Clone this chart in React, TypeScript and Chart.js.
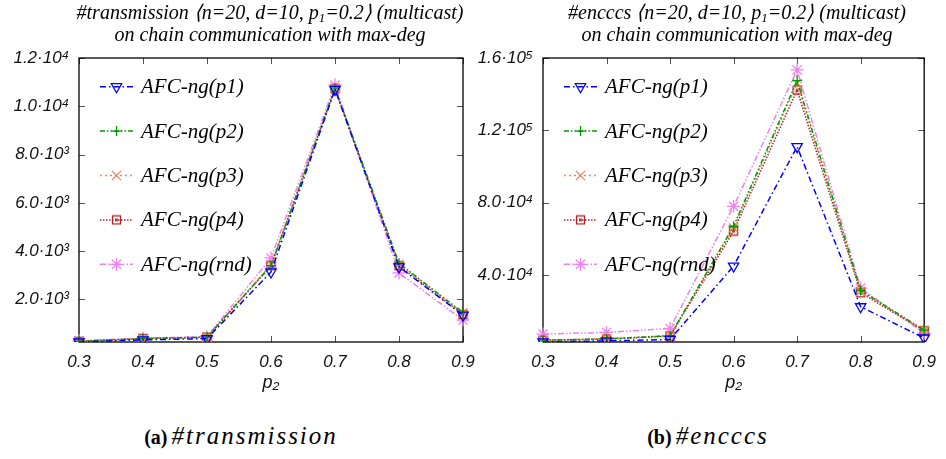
import React, { useEffect, useRef } from 'react';
import { Chart, registerables } from 'chart.js';

Chart.register(...registerables);

// ---------------- data ----------------
const categories = ['0.3', '0.4', '0.5', '0.6', '0.7', '0.8', '0.9'];
const seriesNames = ['AFC-ng(p1)', 'AFC-ng(p2)', 'AFC-ng(p3)', 'AFC-ng(p4)', 'AFC-ng(rnd)'];

// #transmission
const transP1 = [240, 330, 380, 3140, 10700, 3350, 1350];
const transP2 = [270, 380, 440, 3400, 10750, 3500, 1450];
const transP3 = [270, 380, 440, 3450, 10750, 3450, 1450];
const transP4 = [270, 380, 440, 3400, 10720, 3400, 1380];
const transRnd = [290, 400, 460, 3720, 10880, 3100, 1150];

// #encccs
const encP1 = [3100, 3600, 4400, 45000, 111000, 22500, 5200];
const encP2 = [4000, 4700, 6500, 67000, 147500, 31500, 9600];
const encP3 = [4000, 4700, 6500, 66000, 146000, 31000, 9400];
const encP4 = [4000, 4600, 6300, 64300, 142300, 30200, 9200];
const encRnd = [7400, 8300, 10500, 78000, 153400, 32800, 7900];

const transTicks = [2000, 4000, 6000, 8000, 10000, 12000];
const transTickLabels = ['2.0·10³', '4.0·10³', '6.0·10³', '8.0·10³', '1.0·10⁴', '1.2·10⁴'];
const encTicks = [40000, 80000, 120000, 160000];
const encTickLabels = ['4.0·10⁴', '8.0·10⁴', '1.2·10⁵', '1.6·10⁵'];

// ---------------- styles ----------------
type St = { color: string; dash: number[]; point: string; rot: number; r: number };
const styles: St[] = [
  { color: '#0000ff', dash: [6, 3, 1.5, 3], point: 'triangle', rot: 180, r: 6 },
  { color: '#009a00', dash: [5, 2, 1.5, 2, 1.5, 2], point: 'cross', rot: 0, r: 5 },
  { color: '#ff7f50', dash: [2, 3], point: 'crossRot', rot: 0, r: 6.5 },
  { color: '#b22222', dash: [1.5, 1.5], point: 'sq', rot: 0, r: 4.5 },
  { color: '#ee82ee', dash: [6, 2, 1.5, 2, 1.5, 2], point: 'star', rot: 0, r: 6.5 },
];

const SANS = '"Liberation Sans", Arial, sans-serif';
const SERIF = '"Liberation Serif", "Times New Roman", serif';

function makeSquare(color: string): HTMLCanvasElement {
  const c = document.createElement('canvas');
  c.width = 11;
  c.height = 11;
  const g = c.getContext('2d')!;
  g.strokeStyle = color;
  g.lineWidth = 1.3;
  g.strokeRect(1.5, 1.5, 8, 8);
  g.fillStyle = color;
  g.globalAlpha = 0.8;
  g.fillRect(4, 4, 3, 3);
  return c;
}

function drawMarker(ctx: CanvasRenderingContext2D, st: St, x: number, y: number, img: HTMLCanvasElement) {
  ctx.save();
  ctx.setLineDash([]);
  ctx.strokeStyle = st.color;
  ctx.lineWidth = 1.3;
  const r = st.r;
  ctx.beginPath();
  if (st.point === 'triangle') {
    let rad = (st.rot * Math.PI) / 180;
    ctx.moveTo(x + Math.sin(rad) * r, y - Math.cos(rad) * r);
    rad += (2 * Math.PI) / 3;
    ctx.lineTo(x + Math.sin(rad) * r, y - Math.cos(rad) * r);
    rad += (2 * Math.PI) / 3;
    ctx.lineTo(x + Math.sin(rad) * r, y - Math.cos(rad) * r);
    ctx.closePath();
    ctx.stroke();
  } else if (st.point === 'sq') {
    ctx.drawImage(img, x - img.width / 2, y - img.height / 2);
  } else {
    if (st.point === 'cross' || st.point === 'star') {
      ctx.moveTo(x, y - r);
      ctx.lineTo(x, y + r);
      ctx.moveTo(x - r, y);
      ctx.lineTo(x + r, y);
    }
    if (st.point === 'crossRot' || st.point === 'star') {
      const o = r * Math.cos(Math.PI / 4);
      ctx.moveTo(x - o, y - o);
      ctx.lineTo(x + o, y + o);
      ctx.moveTo(x + o, y - o);
      ctx.lineTo(x - o, y + o);
    }
    ctx.stroke();
  }
  ctx.restore();
}

type PanelProps = {
  values: number[][];
  ticks: number[];
  tickLabels: string[];
  min: number;
  max: number;
  left: number;
  width: number;
  yWidth: number;
  padRight: number;
};

function ChartPanel({ values, ticks, tickLabels, min, max, left, width, yWidth, padRight }: PanelProps) {
  const ref = useRef<HTMLCanvasElement>(null);

  useEffect(() => {
    if (!ref.current) return;
    const sq = makeSquare(styles[3].color);

    const datasets = values.map((v, i) => {
      const st = styles[i];
      return {
        label: seriesNames[i],
        data: v,
        borderColor: st.color,
        backgroundColor: 'transparent',
        borderDash: st.dash,
        borderWidth: 1.5,
        pointStyle: st.point === 'sq' ? (sq as any) : st.point,
        rotation: st.rot,
        pointRadius: st.r,
        pointBorderColor: st.color,
        pointBackgroundColor: 'transparent',
        pointBorderWidth: 1.3,
        tension: 0,
        fill: false,
      };
    });

    const framePlugin = {
      id: 'frame',
      beforeDatasetsDraw(chart: any) {
        const { ctx, chartArea: a, scales } = chart;
        ctx.save();
        ctx.strokeStyle = '#555';
        ctx.lineWidth = 1;
        const tl = 6;
        categories.forEach((_, i) => {
          const x = Math.round(scales.x.getPixelForValue(i)) + 0.5;
          ctx.beginPath();
          ctx.moveTo(x, a.bottom);
          ctx.lineTo(x, a.bottom - tl);
          ctx.moveTo(x, a.top);
          ctx.lineTo(x, a.top + tl);
          ctx.stroke();
        });
        ticks.forEach((v) => {
          const y = Math.round(scales.y.getPixelForValue(v)) + 0.5;
          ctx.beginPath();
          ctx.moveTo(a.left, y);
          ctx.lineTo(a.left + tl, y);
          ctx.moveTo(a.right, y);
          ctx.lineTo(a.right - tl, y);
          ctx.stroke();
        });
        ctx.strokeStyle = '#000';
        ctx.lineWidth = 1.3;
        ctx.strokeRect(a.left, a.top, a.right - a.left, a.bottom - a.top);
        ctx.restore();
      },
    };

    const legendPlugin = {
      id: 'gpLegend',
      afterDatasetsDraw(chart: any) {
        const { ctx, chartArea: a } = chart;
        ctx.save();
        seriesNames.forEach((name, i) => {
          const st = styles[i];
          const y = a.top + 28.7 + i * 44.4;
          ctx.strokeStyle = st.color;
          ctx.lineWidth = 1.5;
          ctx.setLineDash(st.dash);
          ctx.beginPath();
          ctx.moveTo(a.left + 21, y);
          ctx.lineTo(a.left + 54, y);
          ctx.stroke();
          drawMarker(ctx, st, a.left + 37.5, y, sq);
          ctx.setLineDash([]);
          ctx.fillStyle = '#000';
          ctx.font = `italic 21px ${SERIF}`;
          ctx.textAlign = 'left';
          ctx.textBaseline = 'middle';
          ctx.fillText(name, a.left + 62, y + 1);
        });
        ctx.restore();
      },
    };

    const tickFont = { family: SANS, style: 'italic' as const, size: 17 };

    const chart = new Chart(ref.current, {
      type: 'line',
      data: { labels: categories, datasets: datasets as any },
      options: {
        animation: false,
        responsive: false,
        maintainAspectRatio: false,
        layout: { padding: { top: 58, left: 0, right: padRight, bottom: 0 } },
        plugins: {
          legend: { display: false },
          tooltip: { enabled: false },
          title: { display: false },
        },
        scales: {
          x: {
            type: 'category',
            offset: false,
            grid: { display: false, drawTicks: false },
            border: { display: false },
            ticks: { font: tickFont, color: '#111', padding: 10, maxRotation: 0, autoSkip: false },
            title: {
              display: true,
              text: 'p₂',
              font: { family: SANS, style: 'italic', size: 18 },
              color: '#111',
              padding: { top: 0, bottom: 6 },
            },
            afterFit: (s: any) => {
              s.height = 58;
            },
          },
          y: {
            type: 'linear',
            min,
            max,
            grid: { display: false, drawTicks: false },
            border: { display: false },
            afterBuildTicks: (s: any) => {
              s.ticks = ticks.map((v) => ({ value: v }));
            },
            ticks: {
              font: tickFont,
              color: '#111',
              padding: 10,
              callback: (_v: any, idx: number) => tickLabels[idx] ?? '',
            },
            afterFit: (s: any) => {
              s.width = yWidth;
            },
          },
        },
      },
      plugins: [framePlugin, legendPlugin],
    });
    return () => chart.destroy();
  }, []);

  return (
    <canvas
      ref={ref}
      width={width}
      height={400}
      style={{ position: 'absolute', left, top: 0, width, height: 400 }}
    />
  );
}

const titleStyle: React.CSSProperties = {
  position: 'absolute',
  transform: 'translateX(-50%)',
  whiteSpace: 'nowrap',
  fontFamily: SERIF,
  fontStyle: 'italic',
  fontSize: 20,
  lineHeight: '22px',
  textAlign: 'center',
  color: '#000',
  top: 1,
};

const subStyle: React.CSSProperties = { fontSize: 13, verticalAlign: '-3px', lineHeight: 0 };

const captionStyle: React.CSSProperties = {
  position: 'absolute',
  transform: 'translateX(-50%)',
  whiteSpace: 'nowrap',
  fontFamily: SERIF,
  top: 422,
  lineHeight: '28px',
  color: '#000',
};

const capMain: React.CSSProperties = { fontStyle: 'italic', fontSize: 25, letterSpacing: '2px' };

export default function App() {
  return (
    <div style={{ position: 'absolute', left: 0, top: 0, width: 946, height: 459, background: '#fff', overflow: 'hidden' }}>
      <ChartPanel
        values={[transP1, transP2, transP3, transP4, transRnd]}
        ticks={transTicks}
        tickLabels={transTickLabels}
        min={240}
        max={12000}
        left={0}
        width={500}
        yWidth={79}
        padRight={37}
      />
      <ChartPanel
        values={[encP1, encP2, encP3, encP4, encRnd]}
        ticks={encTicks}
        tickLabels={encTickLabels}
        min={3000}
        max={160000}
        left={473}
        width={473}
        yWidth={70}
        padRight={19}
      />
      <div style={{ ...titleStyle, left: 270 }}>
        #transmission ⟨n=20, d=10, p<sub style={subStyle}>1</sub>=0.2⟩ (multicast)
        <br />
        on chain communication with max-deg
      </div>
      <div style={{ ...titleStyle, left: 737 }}>
        #encccs ⟨n=20, d=10, p<sub style={subStyle}>1</sub>=0.2⟩ (multicast)
        <br />
        on chain communication with max-deg
      </div>
      <div style={{ ...captionStyle, left: 241 }}>
        <span style={{ fontWeight: 'bold', fontSize: 20 }}>(a)</span>{' '}
        <span style={capMain}>#transmission</span>
      </div>
      <div style={{ ...captionStyle, left: 708 }}>
        <span style={{ fontWeight: 'bold', fontSize: 20 }}>(b)</span>{' '}
        <span style={capMain}>#encccs</span>
      </div>
    </div>
  );
}
